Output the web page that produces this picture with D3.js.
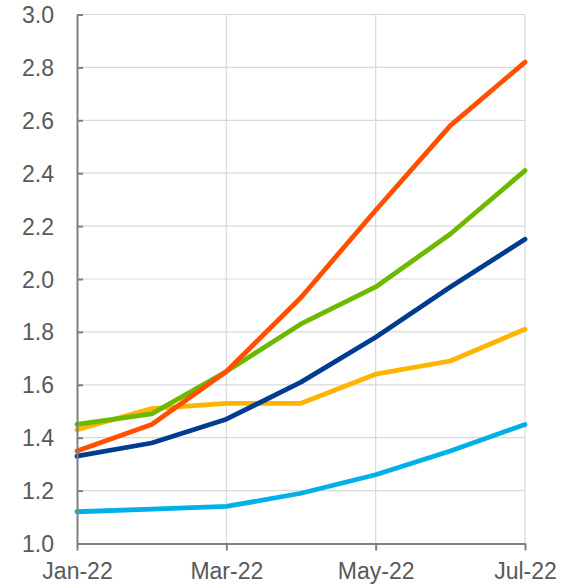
<!DOCTYPE html>
<html>
<head>
<meta charset="utf-8">
<script src="https://cdn.jsdelivr.net/npm/d3@7"></script>
<style>
  html, body { margin: 0; padding: 0; background: #fff; }
  svg text { font-family: "Liberation Sans", Arial, sans-serif; fill: #595959; }
</style>
</head>
<body>
<svg id="chart" width="576" height="588"></svg>
<script>
// Monthly observations, Jan-22 to Jul-22
const months = ["Jan-22", "Feb-22", "Mar-22", "Apr-22", "May-22", "Jun-22", "Jul-22"];
const tickMonths = ["Jan-22", "Mar-22", "May-22", "Jul-22"];
const yTicks = [1.0, 1.2, 1.4, 1.6, 1.8, 2.0, 2.2, 2.4, 2.6, 2.8, 3.0];

const seriesRed    = [1.35, 1.45, 1.65, 1.93, 2.26, 2.58, 2.82];
const seriesGreen  = [1.45, 1.49, 1.65, 1.83, 1.97, 2.17, 2.41];
const seriesNavy   = [1.33, 1.38, 1.47, 1.61, 1.78, 1.97, 2.15];
const seriesYellow = [1.43, 1.51, 1.53, 1.53, 1.64, 1.69, 1.81];
const seriesCyan   = [1.12, 1.13, 1.14, 1.19, 1.26, 1.35, 1.45];

const series = [
  { values: seriesCyan,   color: "#00b0e8" },
  { values: seriesYellow, color: "#ffb400" },
  { values: seriesNavy,   color: "#003c8f" },
  { values: seriesGreen,  color: "#6cb900" },
  { values: seriesRed,    color: "#ff5000" }
];

const svg = d3.select("#chart");
const plotLeft = 77, plotRight = 525, plotTop = 14.5, plotBottom = 543.5;

const x = d3.scalePoint().domain(months).range([plotLeft, plotRight]);
const y = d3.scaleLinear().domain([1.0, 3.0]).range([plotBottom, plotTop]);

// Horizontal gridlines
svg.append("g")
  .selectAll("line")
  .data(yTicks.slice(1))
  .join("line")
  .attr("x1", plotLeft).attr("x2", plotRight)
  .attr("y1", d => y(d)).attr("y2", d => y(d))
  .attr("stroke", "#d9d9d9").attr("stroke-width", 1.2);

// Vertical gridlines at labelled months
svg.append("g")
  .selectAll("line")
  .data(tickMonths.slice(1))
  .join("line")
  .attr("x1", d => x(d)).attr("x2", d => x(d))
  .attr("y1", plotTop).attr("y2", plotBottom)
  .attr("stroke", "#d9d9d9").attr("stroke-width", 1.2);

// Lines
const line = d3.line()
  .x((d, i) => x(months[i]))
  .y(d => y(d));

svg.append("g")
  .selectAll("path")
  .data(series)
  .join("path")
  .attr("d", d => line(d.values))
  .attr("fill", "none")
  .attr("stroke", d => d.color)
  .attr("stroke-width", 4.8)
  .attr("stroke-linejoin", "round")
  .attr("stroke-linecap", "round");

// Y axis: ticks point inward
const yAxis = svg.append("g")
  .attr("transform", `translate(${plotLeft},0)`)
  .call(d3.axisRight(y).tickValues(yTicks).tickFormat(d3.format(".1f")).tickSize(6).tickSizeOuter(0));
yAxis.select(".domain").attr("stroke", "#808080").attr("stroke-width", 2);
yAxis.selectAll(".tick line").attr("stroke", "#808080").attr("stroke-width", 2);
yAxis.selectAll(".tick text")
  .attr("x", -23).attr("text-anchor", "end").attr("dy", "0.35em")
  .style("font-size", "23px");

// X axis
const xAxis = svg.append("g")
  .attr("transform", `translate(0,${plotBottom})`)
  .call(d3.axisBottom(x).tickValues(tickMonths).tickSize(7).tickSizeOuter(0).tickPadding(12));
xAxis.select(".domain").attr("stroke", "#808080").attr("stroke-width", 2);
xAxis.selectAll(".tick line").attr("stroke", "#808080").attr("stroke-width", 2);
xAxis.selectAll(".tick text").style("font-size", "23px");
</script>
</body>
</html>
